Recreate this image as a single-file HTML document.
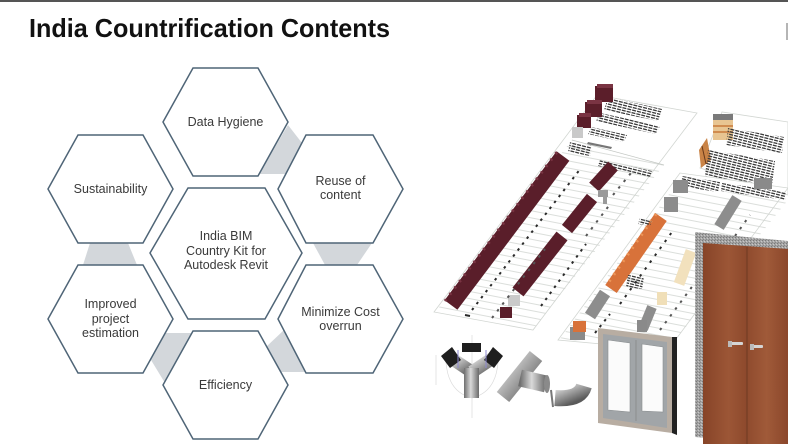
<!DOCTYPE html>
<html><head><meta charset="utf-8"><style>
html,body{margin:0;padding:0;background:#fff;}
svg{display:block;}
text{font-family:"Liberation Sans",Arial,sans-serif;}
</style></head><body>
<svg width="788" height="444" viewBox="0 0 788 444" xmlns="http://www.w3.org/2000/svg">
<defs>
<pattern id="rows" width="60" height="7" patternUnits="userSpaceOnUse" patternTransform="rotate(11)">
<line x1="0" y1="0.5" x2="60" y2="0.5" stroke="#cfd3cf" stroke-width="0.7"/>
</pattern>
<pattern id="txt" width="5" height="2.6" patternUnits="userSpaceOnUse" patternTransform="rotate(14)">
<rect x="0" y="0" width="4" height="1.3" fill="#3a3a3a"/>
</pattern>
<linearGradient id="silver" x1="0" y1="0" x2="1" y2="1">
<stop offset="0" stop-color="#ececec"/><stop offset="0.5" stop-color="#a2a2a2"/><stop offset="1" stop-color="#5a5a5a"/>
</linearGradient>
<linearGradient id="silver2" x1="0" y1="0" x2="1" y2="0">
<stop offset="0" stop-color="#6e6e6e"/><stop offset="0.45" stop-color="#d9d9d9"/><stop offset="1" stop-color="#6a6a6a"/>
</linearGradient>
<linearGradient id="wood" x1="0" y1="0" x2="1" y2="0">
<stop offset="0" stop-color="#874428"/><stop offset="0.3" stop-color="#9c5636"/><stop offset="0.5" stop-color="#8e4a2d"/><stop offset="0.75" stop-color="#a05a39"/><stop offset="1" stop-color="#8b472b"/>
</linearGradient>
<pattern id="granite" width="3" height="3" patternUnits="userSpaceOnUse">
<rect width="3" height="3" fill="#a4a4a4"/><rect x="0" y="0" width="1" height="1" fill="#7a7a7a"/><rect x="2" y="1" width="1" height="1" fill="#c8c8c8"/><rect x="1" y="2" width="1" height="1" fill="#888"/>
</pattern>
</defs>

<rect width="788" height="444" fill="#fff"/>
<rect x="0" y="0" width="788" height="2" fill="#555"/>
<rect x="786" y="23" width="2" height="17" fill="#b5b5b5"/>

<text x="29" y="37" font-size="26" font-weight="bold" fill="#111" textLength="361" lengthAdjust="spacingAndGlyphs">India Countrification Contents</text>

<!-- gray connectors -->
<g fill="#d3d7db">
<polygon points="288,125 302,143 286,174 259,174"/>
<polygon points="90,243 128,243 137,265 83,265"/>
<polygon points="313,243 372,243 357,265 325,265"/>
<polygon points="165,333 193,333 165,383 151,360"/>
<polygon points="284,330 266,347 281,372 307,372"/>
</g>

<!-- hexagons -->
<g fill="#fff" stroke="#4f6577" stroke-width="1.5">
<polygon points="163,122 193,68 258,68 288,122 258,176 193,176"/>
<polygon points="48,189 78,135 143,135 173,189 143,243 78,243"/>
<polygon points="278,189 306,135 373,135 403,189 373,243 306,243"/>
<polygon points="150,253 188,188 265,188 302,253 265,319 188,319"/>
<polygon points="48,319 78,265 143,265 173,319 143,373 78,373"/>
<polygon points="278,319 306,265 373,265 403,319 373,373 306,373"/>
<polygon points="163,385 193,331 258,331 288,385 258,439 193,439"/>
</g>

<g font-size="12.5" fill="#3a3a3a" text-anchor="middle">
<text x="225.5" y="126">Data Hygiene</text>
<text x="110.5" y="193">Sustainability</text>
<text x="340.5" y="185">Reuse of</text>
<text x="340.5" y="199">content</text>
<text x="226" y="240">India BIM</text>
<text x="226" y="255">Country Kit for</text>
<text x="226" y="269">Autodesk Revit</text>
<text x="110.5" y="308">Improved</text>
<text x="110.5" y="323">project</text>
<text x="110.5" y="337">estimation</text>
<text x="340.5" y="316">Minimize Cost</text>
<text x="340.5" y="330">overrun</text>
<text x="225.5" y="389">Efficiency</text>
</g>

<!-- ============ right illustration ============ -->
<!-- sheet 1 -->
<polygon points="434,312 597,95 697,113 533,330" fill="#fff" stroke="#d2d6d2" stroke-width="0.8"/>
<polygon points="436,311 572,140 664,165 533,329" fill="url(#rows)"/>
<line x1="572" y1="140" x2="664" y2="165" stroke="#c4c8c4" stroke-width="0.8"/>
<!-- text blocks top -->
<polygon points="608,97 662,109 658,121 604,110" fill="url(#txt)"/>
<polygon points="600,113 660,126 656,134 596,121" fill="url(#txt)"/>
<polygon points="591,127 627,135 624,142 588,134" fill="url(#txt)"/>
<polygon points="588,142 612,147 611,149 587,144" fill="#777"/>
<polygon points="570,142 592,146 590,156 568,152" fill="url(#txt)"/>
<polygon points="600,160 652,171 650,177 598,166" fill="url(#txt)"/>
<!-- top cubes -->
<rect x="595" y="86" width="18" height="16" fill="#5b1e2a"/><rect x="597" y="84" width="16" height="4" fill="#7a3443"/>
<rect x="585" y="102" width="17" height="15" fill="#5b1e2a"/><rect x="587" y="100" width="15" height="4" fill="#7a3443"/>
<rect x="577" y="115" width="14" height="13" fill="#5b1e2a"/><rect x="579" y="113" width="12" height="4" fill="#7a3443"/>
<rect x="572" y="127" width="11" height="11" fill="#c9c9c9"/>
<!-- maroon columns -->
<g stroke-linecap="butt">
<line x1="451" y1="305" x2="563" y2="156" stroke="#5a1e2a" stroke-width="16"/>
<line x1="451" y1="305" x2="563" y2="156" stroke="#7a3443" stroke-width="3" stroke-dasharray="2 6" transform="translate(-6,-4)"/>
<line x1="518" y1="292" x2="562" y2="236" stroke="#5a1e2a" stroke-width="14"/>
<line x1="567" y1="229" x2="592" y2="198" stroke="#5a1e2a" stroke-width="13"/>
<line x1="594" y1="187" x2="613" y2="166" stroke="#5a1e2a" stroke-width="13"/>
</g>
<rect x="508" y="295" width="12" height="11" fill="#cacaca"/>
<rect x="500" y="307" width="12" height="11" fill="#5a1e2a"/>
<rect x="598" y="190" width="10" height="7" fill="#9a9a9a"/>
<rect x="603" y="196" width="4" height="8" fill="#9a9a9a"/>
<!-- labels -->
<g stroke="#2a2a2a" stroke-width="2" fill="none">
<line x1="472" y1="310" x2="581" y2="168" stroke-dasharray="2.5 5"/>
<line x1="492" y1="318" x2="545" y2="249" stroke-dasharray="2.5 6" stroke="#555"/>
<line x1="541" y1="306" x2="586" y2="244" stroke-dasharray="2.5 5"/>
<line x1="586" y1="236" x2="611" y2="203" stroke-dasharray="2.5 6" stroke="#555"/>
<line x1="613" y1="195" x2="631" y2="173" stroke-dasharray="2.5 6" stroke="#555"/>
<line x1="465" y1="315" x2="470" y2="316"/>
</g>

<!-- sheet 2 -->
<polygon points="700,168 722,112 788,122 788,195" fill="#fff" stroke="#d2d6d2" stroke-width="0.8"/>
<polygon points="558,340 680,173 788,188 668,350" fill="#fff" stroke="#d2d6d2" stroke-width="0.8"/>
<polygon points="560,339 676,185 788,200 668,349" fill="url(#rows)"/>
<polygon points="682,176 720,182 718,192 679,186" fill="url(#txt)"/>
<polygon points="722,183 786,192 785,200 721,191" fill="url(#txt)"/>
<!-- upper content -->
<rect x="713" y="119" width="20" height="21" fill="#e8c592"/>
<rect x="713" y="114" width="20" height="6" fill="#7a7a7a"/>
<line x1="713" y1="126" x2="733" y2="126" stroke="#c77a3a" stroke-width="1.5"/>
<line x1="713" y1="132" x2="733" y2="132" stroke="#c77a3a" stroke-width="1.5"/>
<polygon points="699,150 707,138 711,160 701,168" fill="#c98346"/>
<line x1="702" y1="146" x2="706" y2="164" stroke="#6a3a1a" stroke-width="1"/>
<polygon points="728,128 784,137 782,153 726,145" fill="url(#txt)"/>
<polygon points="708,150 775,161 772,185 705,176" fill="url(#txt)"/>
<rect x="754" y="178" width="18" height="11" fill="#8a8a8a"/>
<!-- lower content -->
<rect x="673" y="180" width="15" height="13" fill="#8c8c8c"/>
<rect x="664" y="197" width="14" height="15" fill="#8c8c8c"/>
<line x1="661" y1="217" x2="611" y2="289" stroke="#d8723a" stroke-width="14"/>
<line x1="661" y1="217" x2="611" y2="289" stroke="#ec9558" stroke-width="3" stroke-dasharray="2 6" transform="translate(-5,-3)"/>
<line x1="737" y1="198" x2="719" y2="227" stroke="#8d8d8d" stroke-width="11"/>
<line x1="691" y1="251" x2="679" y2="284" stroke="#f2e1bd" stroke-width="11"/>
<rect x="657" y="292" width="10" height="13" fill="#f0dfb8"/>
<line x1="605" y1="293" x2="590" y2="316" stroke="#8d8d8d" stroke-width="12"/>
<rect x="570" y="327" width="15" height="13" fill="#8a8a8a"/>
<rect x="573" y="321" width="13" height="11" fill="#d8723a"/>
<line x1="652" y1="307" x2="643" y2="329" stroke="#8d8d8d" stroke-width="10"/>
<polygon points="628,275 644,277 642,289 626,287" fill="url(#txt)"/>
<polygon points="640,218 652,220 650,226 638,224" fill="url(#txt)"/>
<g stroke="#2a2a2a" stroke-width="2" fill="none">
<line x1="620" y1="304" x2="672" y2="232" stroke-dasharray="2.5 6"/>
<line x1="660" y1="330" x2="700" y2="276" stroke-dasharray="2.5 6" stroke="#555"/>
<line x1="595" y1="333" x2="610" y2="314" stroke-dasharray="2.5 5"/>
<line x1="735" y1="236" x2="750" y2="215" stroke-dasharray="2.5 6" stroke="#555"/>
</g>

<!-- glass door -->
<rect x="637" y="320" width="10" height="12" fill="#8a8a8a"/>
<polygon points="672,337 677,337 677,435 672,433" fill="#222"/>
<polygon points="598,328 672,337 672,433 598,423" fill="#b8ada2"/>
<polygon points="603,334 667,342 667,428 603,418" fill="#a1a5a8"/>
<polygon points="608,340 630,343 630,412 608,410" fill="#fbfbfb" stroke="#8a8e90" stroke-width="0.6"/>
<polygon points="642,344 663,347 663,412 642,411" fill="#fbfbfb" stroke="#8a8e90" stroke-width="0.6"/>
<line x1="636" y1="340" x2="636" y2="421" stroke="#888" stroke-width="0.8"/>

<!-- big door -->
<polygon points="695,232 788,241 788,444 695,437" fill="url(#granite)"/>
<polygon points="703,243 788,249 788,444 703,444" fill="url(#wood)"/>
<line x1="747" y1="247" x2="747" y2="444" stroke="#6e3a22" stroke-width="1"/>
<rect x="730" y="342" width="13" height="3" rx="1" fill="#d5d5d5"/>
<rect x="728" y="341" width="4" height="6" fill="#bbb"/>
<rect x="752" y="345" width="11" height="3" rx="1" fill="#d5d5d5"/>
<rect x="750" y="344" width="4" height="6" fill="#bbb"/>

<!-- construction lines -->
<g stroke="#dcdcdc" stroke-width="0.7" fill="none">
<line x1="436" y1="355" x2="436" y2="385"/>
<line x1="472" y1="335" x2="472" y2="418"/>
<path d="M446,362 Q448,392 472,398"/>
<path d="M498,362 Q496,392 472,398"/>
</g>
<!-- Y fitting -->
<g stroke-linecap="butt">
<line x1="472" y1="372" x2="451" y2="358" stroke="url(#silver)" stroke-width="13"/>
<line x1="472" y1="372" x2="493" y2="358" stroke="url(#silver)" stroke-width="13"/>
<line x1="472" y1="370" x2="472" y2="350" stroke="url(#silver)" stroke-width="13"/>
</g>
<rect x="464" y="368" width="15" height="30" fill="url(#silver2)"/>
<polygon points="441,356 452,347 461,360 450,368" fill="#1e1e1e"/>
<polygon points="484,360 493,347 503,356 494,368" fill="#1e1e1e"/>
<rect x="462" y="343" width="19" height="9" fill="#1e1e1e"/>
<line x1="458" y1="350" x2="458" y2="368" stroke="#8c88d0" stroke-width="1"/>
<line x1="486" y1="350" x2="486" y2="368" stroke="#8c88d0" stroke-width="1"/>
<!-- tee -->
<line x1="503" y1="397" x2="536" y2="356" stroke="url(#silver)" stroke-width="16"/>
<line x1="520" y1="378" x2="546" y2="384" stroke="url(#silver2)" stroke-width="17"/>
<ellipse cx="547" cy="384" rx="3" ry="9" fill="#8a8a8a"/>
<!-- elbow -->
<path d="M555,398 Q580,400 584,386" stroke="url(#silver)" stroke-width="16" fill="none"/>
<line x1="551" y1="390" x2="553" y2="407" stroke="#777" stroke-width="2"/>
</svg>
</body></html>
